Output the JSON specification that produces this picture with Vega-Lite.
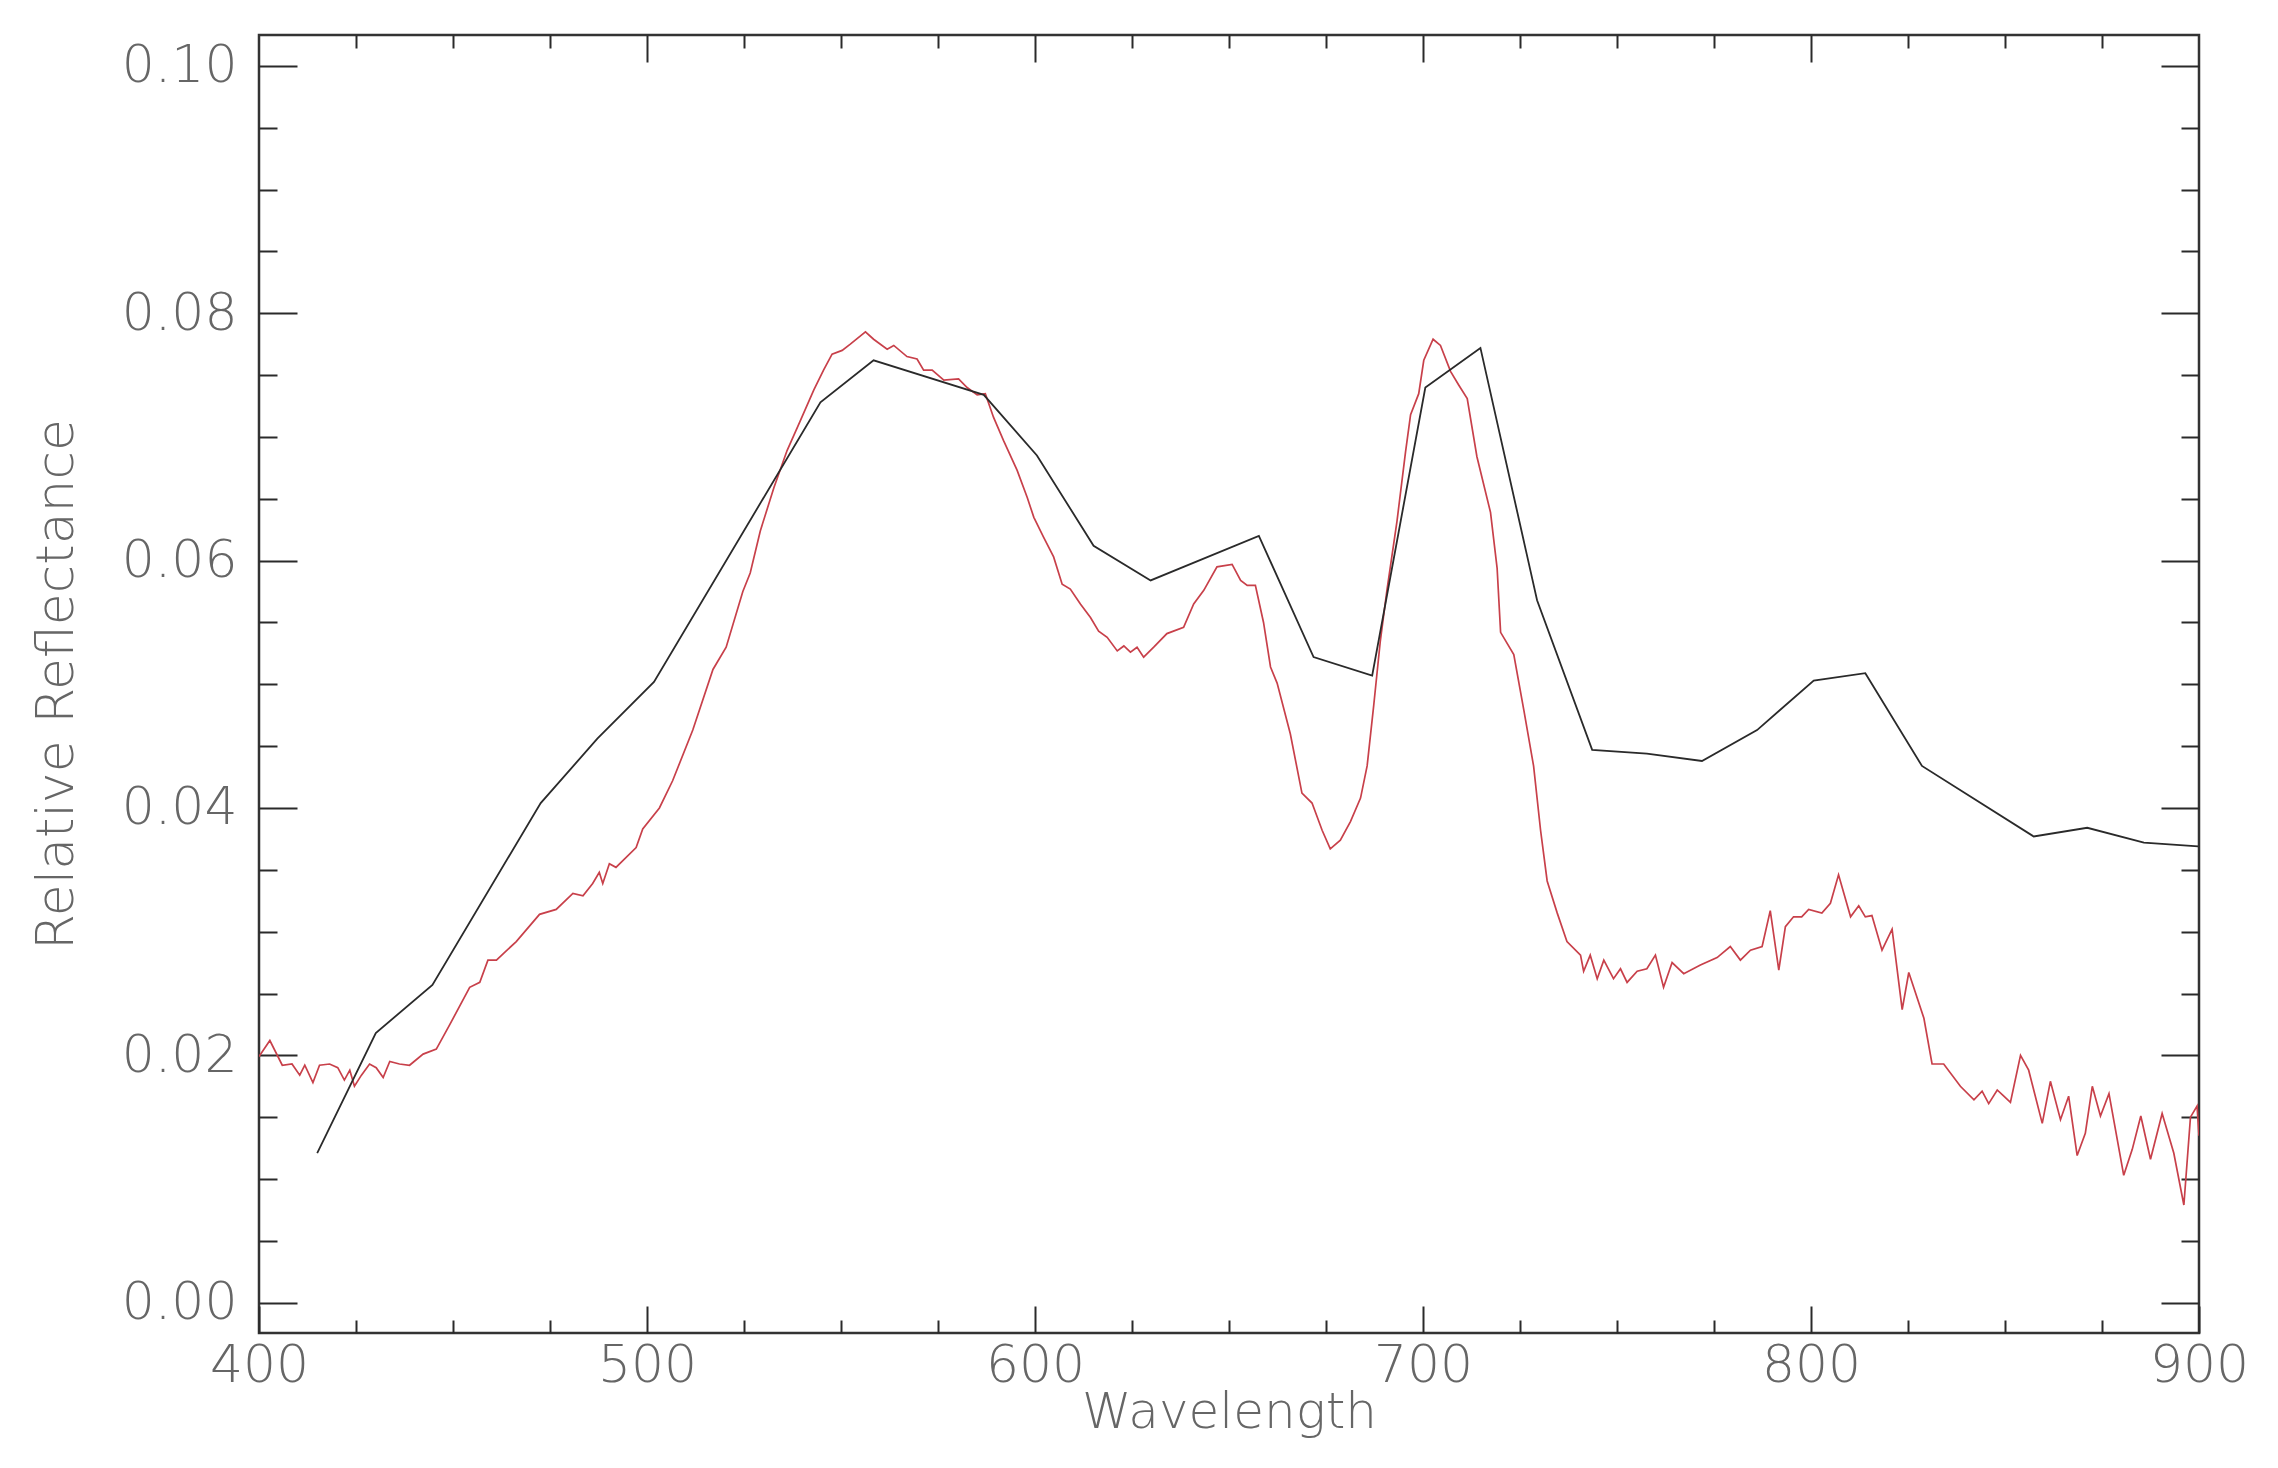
{
"$schema": "https://vega.github.io/schema/vega-lite/v6.json",
"width": 1940, "height": 1298,
"autosize": {"type": "none"},
"padding": {"left": 259, "top": 35, "right": 79, "bottom": 135},
"background": "white",
"config": {
  "view": {"stroke": "#333333", "strokeWidth": 2.5},
  "axis": {"grid": false, "domain": false, "labelFont": "DejaVu Sans", "titleFont": "DejaVu Sans", "labelFontWeight": 200, "titleFontWeight": 200, "labelColor": "#666666", "titleColor": "#666666", "tickColor": "#2a2a2a", "tickWidth": 2, "labelFontSize": 52, "titleFontSize": 50, "labelFlush": false, "labelOverlap": false}
},
"datasets": {
"red": [
{"wl":400.0,"r":0.0199},{"wl":402.8,"r":0.0212},{"wl":406.0,"r":0.0192},{"wl":408.5,"r":0.0193},{"wl":410.5,"r":0.0184},{"wl":411.8,"r":0.0192},{"wl":413.9,"r":0.0178},{"wl":415.6,"r":0.0192},{"wl":418.2,"r":0.0193},{"wl":420.3,"r":0.0190},{"wl":422.0,"r":0.0180},{"wl":423.4,"r":0.0188},{"wl":424.6,"r":0.0175},{"wl":426.4,"r":0.0184},{"wl":428.5,"r":0.0193},{"wl":430.2,"r":0.0190},{"wl":432.0,"r":0.0182},{"wl":433.7,"r":0.0195},{"wl":436.2,"r":0.0193},{"wl":438.8,"r":0.0192},{"wl":442.3,"r":0.0201},{"wl":445.7,"r":0.0205},{"wl":449.2,"r":0.0225},{"wl":454.3,"r":0.0255},{"wl":456.9,"r":0.0259},{"wl":459.0,"r":0.0277},{"wl":461.2,"r":0.0277},{"wl":466.3,"r":0.0292},{"wl":472.3,"r":0.0314},{"wl":476.6,"r":0.0318},{"wl":480.9,"r":0.0331},{"wl":483.5,"r":0.0329},{"wl":486.0,"r":0.0339},{"wl":487.7,"r":0.0348},{"wl":488.6,"r":0.0339},{"wl":490.3,"r":0.0355},{"wl":492.0,"r":0.0352},{"wl":497.2,"r":0.0368},{"wl":498.9,"r":0.0383},{"wl":503.2,"r":0.0400},{"wl":506.6,"r":0.0422},{"wl":511.8,"r":0.0463},{"wl":517.0,"r":0.0512},{"wl":520.4,"r":0.0530},{"wl":524.7,"r":0.0575},{"wl":526.6,"r":0.0590},{"wl":529.2,"r":0.0624},{"wl":532.7,"r":0.0659},{"wl":536.1,"r":0.0689},{"wl":539.5,"r":0.0713},{"wl":543.0,"r":0.0738},{"wl":545.5,"r":0.0754},{"wl":547.7,"r":0.0767},{"wl":550.3,"r":0.0770},{"wl":552.4,"r":0.0775},{"wl":556.3,"r":0.0785},{"wl":558.4,"r":0.0779},{"wl":561.9,"r":0.0771},{"wl":563.6,"r":0.0774},{"wl":567.0,"r":0.0765},{"wl":569.6,"r":0.0763},{"wl":571.3,"r":0.0754},{"wl":573.5,"r":0.0754},{"wl":576.5,"r":0.0746},{"wl":580.3,"r":0.0747},{"wl":582.5,"r":0.0740},{"wl":585.1,"r":0.0734},{"wl":587.2,"r":0.0735},{"wl":589.3,"r":0.0716},{"wl":591.9,"r":0.0697},{"wl":595.4,"r":0.0673},{"wl":598.0,"r":0.0651},{"wl":599.7,"r":0.0635},{"wl":602.2,"r":0.0619},{"wl":604.8,"r":0.0603},{"wl":607.0,"r":0.0581},{"wl":609.1,"r":0.0577},{"wl":611.7,"r":0.0565},{"wl":614.3,"r":0.0554},{"wl":616.4,"r":0.0543},{"wl":618.6,"r":0.0538},{"wl":621.2,"r":0.0527},{"wl":622.9,"r":0.0531},{"wl":624.6,"r":0.0526},{"wl":626.3,"r":0.0530},{"wl":628.0,"r":0.0522},{"wl":630.6,"r":0.0530},{"wl":634.0,"r":0.0541},{"wl":638.3,"r":0.0546},{"wl":640.9,"r":0.0565},{"wl":643.5,"r":0.0576},{"wl":646.9,"r":0.0595},{"wl":650.8,"r":0.0597},{"wl":653.0,"r":0.0584},{"wl":654.7,"r":0.0580},{"wl":656.8,"r":0.0580},{"wl":658.9,"r":0.0550},{"wl":660.7,"r":0.0514},{"wl":662.4,"r":0.0501},{"wl":665.8,"r":0.0460},{"wl":668.8,"r":0.0412},{"wl":671.4,"r":0.0404},{"wl":674.0,"r":0.0382},{"wl":676.1,"r":0.0367},{"wl":678.7,"r":0.0374},{"wl":681.3,"r":0.0389},{"wl":683.9,"r":0.0408},{"wl":685.6,"r":0.0434},{"wl":687.3,"r":0.0483},{"wl":689.0,"r":0.0535},{"wl":690.7,"r":0.0576},{"wl":693.3,"r":0.0632},{"wl":695.5,"r":0.0688},{"wl":696.8,"r":0.0718},{"wl":698.9,"r":0.0735},{"wl":700.2,"r":0.0762},{"wl":702.6,"r":0.0779},{"wl":704.5,"r":0.0774},{"wl":707.1,"r":0.0753},{"wl":709.2,"r":0.0742},{"wl":711.4,"r":0.0731},{"wl":713.9,"r":0.0684},{"wl":717.4,"r":0.0639},{"wl":719.1,"r":0.0594},{"wl":720.0,"r":0.0542},{"wl":723.4,"r":0.0524},{"wl":726.0,"r":0.0479},{"wl":728.5,"r":0.0434},{"wl":730.3,"r":0.0382},{"wl":732.0,"r":0.0341},{"wl":734.6,"r":0.0315},{"wl":737.1,"r":0.0292},{"wl":740.6,"r":0.0281},{"wl":741.4,"r":0.0268},{"wl":743.1,"r":0.0281},{"wl":744.9,"r":0.0262},{"wl":746.6,"r":0.0277},{"wl":749.1,"r":0.0262},{"wl":750.9,"r":0.0270},{"wl":752.6,"r":0.0259},{"wl":755.2,"r":0.0268},{"wl":757.7,"r":0.0270},{"wl":759.9,"r":0.0281},{"wl":762.0,"r":0.0255},{"wl":764.2,"r":0.0275},{"wl":767.2,"r":0.0266},{"wl":771.5,"r":0.0273},{"wl":775.8,"r":0.0279},{"wl":779.2,"r":0.0288},{"wl":781.8,"r":0.0277},{"wl":784.4,"r":0.0285},{"wl":787.4,"r":0.0288},{"wl":789.5,"r":0.0317},{"wl":791.7,"r":0.0269},{"wl":793.4,"r":0.0304},{"wl":795.5,"r":0.0312},{"wl":797.6,"r":0.0312},{"wl":799.4,"r":0.0318},{"wl":802.8,"r":0.0315},{"wl":805.0,"r":0.0323},{"wl":807.1,"r":0.0346},{"wl":810.2,"r":0.0312},{"wl":812.3,"r":0.0321},{"wl":814.0,"r":0.0312},{"wl":815.7,"r":0.0313},{"wl":818.3,"r":0.0285},{"wl":820.9,"r":0.0302},{"wl":823.5,"r":0.0237},{"wl":825.2,"r":0.0267},{"wl":829.1,"r":0.0230},{"wl":831.2,"r":0.0193},{"wl":834.2,"r":0.0193},{"wl":838.5,"r":0.0175},{"wl":842.0,"r":0.0164},{"wl":844.1,"r":0.0171},{"wl":845.8,"r":0.0161},{"wl":848.0,"r":0.0172},{"wl":849.7,"r":0.0167},{"wl":851.4,"r":0.0162},{"wl":854.0,"r":0.0200},{"wl":856.1,"r":0.0188},{"wl":859.6,"r":0.0145},{"wl":861.7,"r":0.0179},{"wl":864.3,"r":0.0148},{"wl":866.4,"r":0.0167},{"wl":868.6,"r":0.0119},{"wl":870.7,"r":0.0137},{"wl":872.5,"r":0.0175},{"wl":874.6,"r":0.0151},{"wl":876.8,"r":0.0169},{"wl":880.6,"r":0.0103},{"wl":882.8,"r":0.0124},{"wl":885.0,"r":0.0151},{"wl":887.5,"r":0.0116},{"wl":890.5,"r":0.0153},{"wl":893.5,"r":0.0121},{"wl":896.1,"r":0.0079},{"wl":897.8,"r":0.0150},{"wl":899.5,"r":0.0159},{"wl":900.0,"r":0.0135}
],
"black": [
{"wl":415.0,"r":0.0121},{"wl":430.1,"r":0.0218},{"wl":444.7,"r":0.0257},{"wl":472.6,"r":0.0404},{"wl":487.2,"r":0.0456},{"wl":501.8,"r":0.0502},{"wl":544.7,"r":0.0728},{"wl":558.4,"r":0.0762},{"wl":586.8,"r":0.0734},{"wl":600.5,"r":0.0685},{"wl":615.1,"r":0.0612},{"wl":629.8,"r":0.0584},{"wl":657.7,"r":0.0620},{"wl":671.8,"r":0.0522},{"wl":686.9,"r":0.0507},{"wl":700.6,"r":0.0740},{"wl":714.8,"r":0.0772},{"wl":729.4,"r":0.0568},{"wl":743.6,"r":0.0447},{"wl":757.7,"r":0.0444},{"wl":771.9,"r":0.0438},{"wl":786.1,"r":0.0463},{"wl":800.7,"r":0.0503},{"wl":814.0,"r":0.0509},{"wl":828.6,"r":0.0434},{"wl":857.4,"r":0.0377},{"wl":871.2,"r":0.0384},{"wl":885.8,"r":0.0372},{"wl":899.8,"r":0.0369}
]
},
"resolve": {"axis": {"x": "independent", "y": "independent"}},
"layer": [
{
  "data": {"name": "red"},
  "mark": {"type": "line", "color": "#c8404a", "strokeWidth": 1.7, "clip": true},
  "encoding": {
    "x": {"field": "wl", "type": "quantitative", "scale": {"domain": [400, 900], "nice": false, "zero": false},
      "axis": {"orient": "bottom", "values": [400, 500, 600, 700, 800, 900], "format": "d", "tickSize": -27, "labelPadding": 34, "title": "Wavelength", "titlePadding": -4}},
    "y": {"field": "r", "type": "quantitative", "scale": {"domain": [-0.00245, 0.1025], "nice": false, "zero": false},
      "axis": {"orient": "left", "values": [0, 0.02, 0.04, 0.06, 0.08, 0.1], "format": ".2f", "tickSize": -38, "labelPadding": 60, "title": "Relative Reflectance", "titleFontSize": 52, "titlePadding": 38}}
  }
},
{
  "data": {"name": "black"},
  "mark": {"type": "line", "color": "#2a2a2a", "strokeWidth": 1.8, "clip": true},
  "encoding": {
    "x": {"field": "wl", "type": "quantitative", "scale": {"domain": [400, 900], "nice": false, "zero": false},
      "axis": {"orient": "bottom", "values": [425, 450, 475, 525, 550, 575, 625, 650, 675, 725, 750, 775, 825, 850, 875], "tickSize": -13, "labels": false, "title": null}},
    "y": {"field": "r", "type": "quantitative", "scale": {"domain": [-0.00245, 0.1025], "nice": false, "zero": false},
      "axis": {"orient": "left", "values": [0.005, 0.01, 0.015, 0.025, 0.03, 0.035, 0.045, 0.05, 0.055, 0.065, 0.07, 0.075, 0.085, 0.09, 0.095], "tickSize": -18, "labels": false, "title": null}}
  }
},
{
  "data": {"name": "black"},
  "mark": {"type": "line", "opacity": 0},
  "encoding": {
    "x": {"field": "wl", "type": "quantitative", "scale": {"domain": [400, 900], "nice": false, "zero": false},
      "axis": {"orient": "top", "values": [500, 600, 700, 800], "tickSize": -27, "labels": false, "title": null}},
    "y": {"field": "r", "type": "quantitative", "scale": {"domain": [-0.00245, 0.1025], "nice": false, "zero": false},
      "axis": {"orient": "right", "values": [0, 0.02, 0.04, 0.06, 0.08, 0.1], "tickSize": -38, "labels": false, "title": null}}
  }
},
{
  "data": {"name": "black"},
  "mark": {"type": "line", "opacity": 0},
  "encoding": {
    "x": {"field": "wl", "type": "quantitative", "scale": {"domain": [400, 900], "nice": false, "zero": false},
      "axis": {"orient": "top", "values": [425, 450, 475, 525, 550, 575, 625, 650, 675, 725, 750, 775, 825, 850, 875], "tickSize": -13, "labels": false, "title": null}},
    "y": {"field": "r", "type": "quantitative", "scale": {"domain": [-0.00245, 0.1025], "nice": false, "zero": false},
      "axis": {"orient": "right", "values": [0.005, 0.01, 0.015, 0.025, 0.03, 0.035, 0.045, 0.05, 0.055, 0.065, 0.07, 0.075, 0.085, 0.09, 0.095], "tickSize": -18, "labels": false, "title": null}}
  }
}
]
}
